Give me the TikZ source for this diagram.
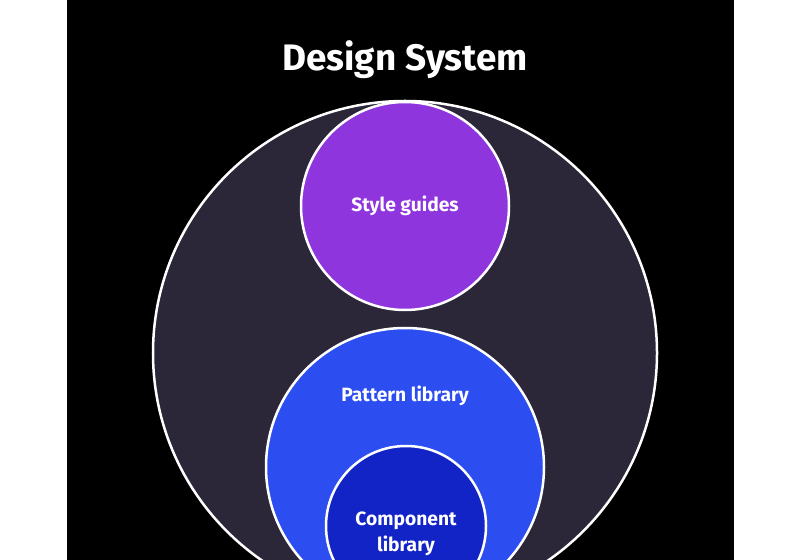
\documentclass[tikz,border=0pt]{standalone}
\usepackage{fontspec}
\setmainfont{Fira Sans}
\definecolor{systemdark}{HTML}{2B2638}
\definecolor{stylepurple}{HTML}{8F35DD}
\definecolor{patternblue}{HTML}{2C4EF0}
\definecolor{componentblue}{HTML}{1224C6}
\tikzset{
  ring/.style = {circle, draw=white, line width=2.5bp, inner sep=0pt},
  label/.style = {text=white, font=\bfseries\fontsize{19.3}{26}\selectfont, align=center}
}
\begin{document}
\begin{tikzpicture}[x=1bp, y=-1bp]
\useasboundingbox (0,0) rectangle (800,560);
\clip (0,0) rectangle (800,560);
\fill[white] (0,0) rectangle (800,560);
\fill[black] (67,0) rectangle (734,560);

\node[text=white, font=\bfseries\fontsize{37}{44}\selectfont] (T) at (405,60) {Design System};

\node[ring, fill=systemdark, minimum size=504bp] (S) at (405,353) {};
\node[ring, fill=stylepurple, minimum size=208bp, label] (G) at (405,206) {Style guides};
\node[ring, fill=patternblue, minimum size=278bp] (P) at (405,467) {};
\node[label] (PL) at (405,396) {Pattern library};
\node[ring, fill=componentblue, minimum size=160bp] (C) at (406,526) {};
\node[label] (CL) at (406,534) {Component\\library};
\end{tikzpicture}
\end{document}
